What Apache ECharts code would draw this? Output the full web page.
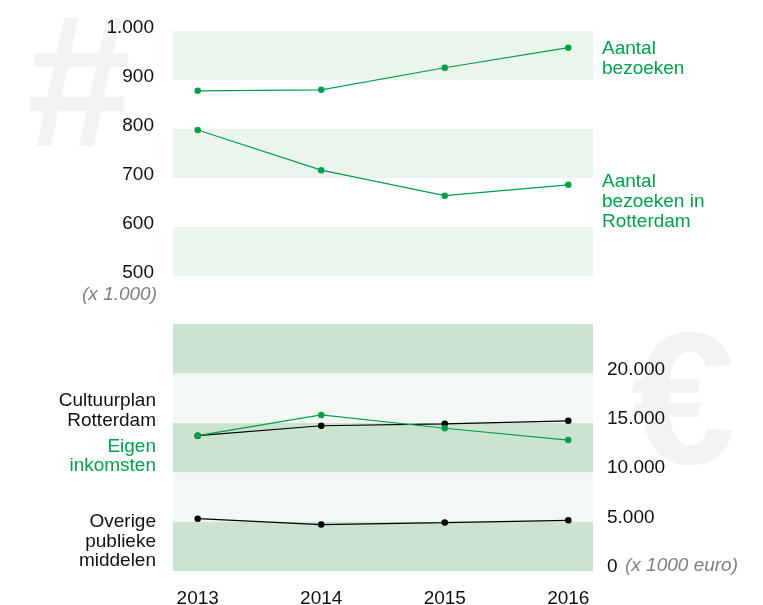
<!DOCTYPE html>
<html>
<head>
<meta charset="utf-8">
<script src="https://cdn.jsdelivr.net/npm/echarts@6/dist/echarts.min.js"></script>
<style>
html,body{margin:0;padding:0;background:#fff;}
#chart{width:763px;height:605px;}
</style>
</head>
<body>
<div id="chart"></div>
<script>
var years = [2013, 2014, 2015, 2016];
var aantalBezoeken = [878, 880, 925, 966];
var bezoekenRotterdam = [798, 716, 664, 686];
var cultuurplan = [13700, 14700, 14900, 15200];
var eigenInkomsten = [13700, 15800, 14450, 13250];
var overigePubliek = [5300, 4700, 4900, 5130];
var topTicks = [500, 600, 700, 800, 900, 1000];
var bottomTicks = [0, 5000, 10000, 15000, 20000];

var GREEN = '#00a04a';
var FONT = 'Liberation Sans, Arial, sans-serif';

function pairs(vals) { return years.map(function (y, i) { return [y, vals[i]]; }); }
function fmtNum(v) { return String(v).replace(/\B(?=(\d{3})+(?!\d))/g, '.'); }

var chart = echarts.init(document.getElementById('chart'), null, { renderer: 'canvas' });

function lineSeries(data, color, xi) {
  return {
    type: 'line', xAxisIndex: xi, yAxisIndex: xi, data: pairs(data),
    symbol: 'circle', symbolSize: 6.5, showSymbol: true,
    lineStyle: { color: color, width: 1.2 },
    itemStyle: { color: color },
    silent: true, animation: false, z: 3
  };
}

var xBase = {
  type: 'value', min: 2012.8, max: 2016.2, interval: 0.2,
  axisLine: { show: false }, axisTick: { show: false }, splitLine: { show: false }
};

chart.setOption({
  animation: false,
  grid: [
    { left: 173, right: 170, top: 31, height: 245, containLabel: false, outerBoundsMode: 'none' },
    { left: 173, right: 170, top: 324, height: 247, containLabel: false, outerBoundsMode: 'none' }
  ],
  xAxis: [
    Object.assign({}, xBase, { gridIndex: 0, axisLabel: { show: false } }),
    Object.assign({}, xBase, {
      gridIndex: 1,
      axisLabel: {
        show: true, margin: 18, color: '#111', fontSize: 19, fontFamily: FONT,
        formatter: function (v) {
          var r = Math.round(v);
          return (Math.abs(v - r) < 1e-6 && years.indexOf(r) >= 0) ? String(r) : '';
        }
      }
    })
  ],
  yAxis: [
    {
      type: 'value', gridIndex: 0, min: topTicks[0], max: topTicks[topTicks.length - 1], interval: 100,
      axisLine: { show: false }, axisTick: { show: false }, splitLine: { show: false },
      splitArea: { show: true, areaStyle: { color: ['#ebf5ed', '#ffffff'] } },
      axisLabel: {
        margin: 19, color: '#111', fontSize: 19, fontFamily: FONT,
        verticalAlign: 'bottom', lineHeight: 7,
        formatter: function (v) { return topTicks.indexOf(v) >= 0 ? fmtNum(v) : ''; }
      }
    },
    {
      type: 'value', gridIndex: 1, position: 'right', min: 0, max: 25000, interval: 5000,
      axisLine: { show: false }, axisTick: { show: false }, splitLine: { show: false },
      splitArea: { show: true, areaStyle: { color: ['#cce3d0', '#f3f8f4'] } },
      axisLabel: {
        margin: 14, color: '#111', fontSize: 19, fontFamily: FONT,
        verticalAlign: 'bottom', lineHeight: 8,
        formatter: function (v) { return bottomTicks.indexOf(v) >= 0 ? fmtNum(v) : ''; }
      }
    }
  ],
  series: [
    lineSeries(aantalBezoeken, GREEN, 0),
    lineSeries(bezoekenRotterdam, GREEN, 0),
    lineSeries(cultuurplan, '#000000', 1),
    lineSeries(eigenInkomsten, GREEN, 1),
    lineSeries(overigePubliek, '#000000', 1)
  ],
  graphic: [
    { type: 'text', z: -10, style: { text: '#', x: 79, y: 94, textAlign: 'center', textVerticalAlign: 'middle', font: 'bold 188px ' + FONT, fill: '#f3f3f3' } },
    { type: 'text', z: -10, style: { text: '€', x: 683, y: 411, textAlign: 'center', textVerticalAlign: 'middle', font: 'bold 188px ' + FONT, fill: '#f3f3f3' } },
    { type: 'text', style: { text: '(x 1.000)', x: 157, y: 295, textAlign: 'right', textVerticalAlign: 'middle', font: 'italic 19px ' + FONT, fill: '#808080' } },
    { type: 'text', style: { text: '(x 1000 euro)', x: 625, y: 566, textAlign: 'left', textVerticalAlign: 'middle', font: 'italic 19px ' + FONT, fill: '#808080' } },
    { type: 'text', style: { text: 'Aantal\nbezoeken', x: 602, y: 38.5, textAlign: 'left', textVerticalAlign: 'top', font: '19px ' + FONT, lineHeight: 20, fill: GREEN } },
    { type: 'text', style: { text: 'Aantal\nbezoeken in\nRotterdam', x: 602, y: 172, textAlign: 'left', textVerticalAlign: 'top', font: '19px ' + FONT, lineHeight: 20, fill: GREEN } },
    { type: 'text', style: { text: 'Cultuurplan\nRotterdam', x: 156, y: 391.5, textAlign: 'right', textVerticalAlign: 'top', font: '19px ' + FONT, lineHeight: 19.5, fill: '#111' } },
    { type: 'text', style: { text: 'Eigen\ninkomsten', x: 156, y: 438, textAlign: 'right', textVerticalAlign: 'top', font: '19px ' + FONT, lineHeight: 18.5, fill: GREEN } },
    { type: 'text', style: { text: 'Overige\npublieke\nmiddelen', x: 156, y: 512, textAlign: 'right', textVerticalAlign: 'top', font: '19px ' + FONT, lineHeight: 19.7, fill: '#111' } }
  ]
});
</script>
</body>
</html>
